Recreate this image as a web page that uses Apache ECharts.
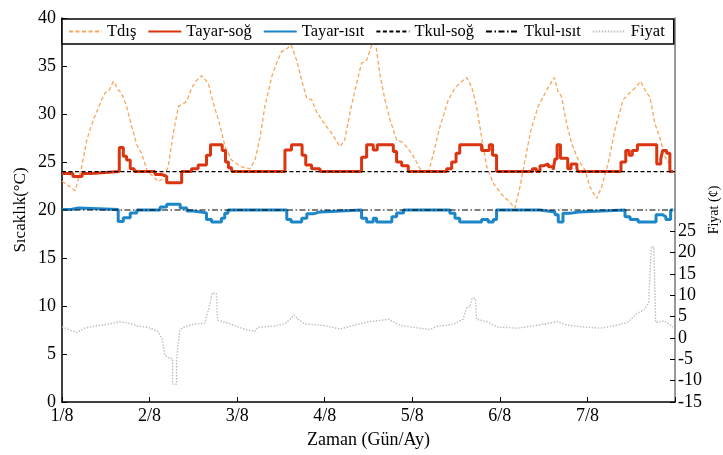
<!DOCTYPE html>
<html>
<head>
<meta charset="utf-8">
<script src="https://cdn.jsdelivr.net/npm/echarts@6/dist/echarts.min.js"></script>
<style>html,body{margin:0;padding:0;background:#fff;}#c{width:723px;height:455px;}</style>
</head>
<body>
<div id="c"></div>
<script>
// ---- data (hours from 1/8 00:00) ----
const dayLabels = ['1/8','2/8','3/8','4/8','5/8','6/8','7/8'];
const tempTicks = [0,5,10,15,20,25,30,35,40];
const priceTicks = [-15,-10,-5,0,5,10,15,20,25];

const tdisH = [0,1.5,3.6,5.4,6.8,8.6,10.9,11.8,12.8,14.1,15.4,16.3,17.7,19.1,20.5,21.8,23.4,25.0,26.4,27.8,29.1,30.5,31.9,34.2,35.5,36.9,38.3,40.1,41.5,43.3,44.7,46.5,47.6,49.2,51.5,52.9,54.3,55.6,57.5,58.8,60.2,61.6,62.8,64.3,65.7,67.1,68.4,69.8,72.1,73.9,76.2,77.5,78.9,80.3,82.1,83.5,84.9,85.8,87.1,88.5,89.9,91.7,93.1,94.4,96.3,98.1,100.4,101.8,103.6,105.9,107.7,109.0,110.9,112.3,113.6,115.0,116.4,118.2,120.5,122.3,124.1,125.5,126.9,128.5,130.5,131.9,133.3,134.9,136.0,136.9,138.3,139.7,141.5,143.3,144.7,146.5,147.9,149.7,151.5,153.8,155.6,157.0,158.6,160.2,161.1,162.5,163.8,165.2,167.0];
const tdisV = [23.0,22.6,22.0,24.5,27.3,29.4,31.5,32.2,32.4,33.4,32.5,32.2,30.8,28.7,26.8,25.9,24.0,23.5,22.95,23.3,24.5,28.0,30.8,31.3,32.7,33.5,34.0,33.2,31.1,28.8,26.6,25.2,24.9,24.5,24.3,25.2,27.6,30.8,33.9,35.3,36.5,36.8,37.2,35.6,33.5,31.6,31.5,30.2,28.9,28.0,26.6,27.3,30.1,32.5,35.3,35.6,37.2,37.8,34.2,31.5,29.4,27.3,27.1,26.6,25.6,24.3,23.8,25.9,28.7,31.5,32.7,33.2,33.8,32.8,30.8,27.6,24.5,22.8,21.6,21.0,20.2,22.4,25.2,28.3,30.8,31.8,32.8,33.8,32.3,31.8,29.0,26.9,25.2,24.2,22.4,21.2,22.4,24.9,28.3,31.5,32.2,32.7,33.4,32.2,31.8,29.0,27.6,25.6,24.5];

const sogH = [0,3,5.5,8,15.7,16.8,17.7,18.7,19.8,25.5,27.3,28.7,32.8,35.5,37.3,39.6,40.7,43.9,44.8,45.6,46.5,61.1,62.9,65.8,66.8,68.4,70.7,82.1,83.5,85.3,86.4,90.8,91.7,93.1,94.9,105.4,106.8,108.0,109.0,115.0,117.1,118.0,119.1,128.9,130.0,131.0,131.9,133.3,134.6,135.1,135.7,136.6,138.6,139.5,141.1,141.5,153.2,154.5,155.4,156.3,157.7,163.0,164.1,164.6,165.7,166.6,167.5];
const sogV = [23.8,23.5,23.8,24.0,26.5,25.6,25.2,24.3,24.0,23.7,23.5,22.85,24.0,24.3,24.7,25.7,26.8,26.2,25.0,24.4,24.0,26.25,26.8,25.7,24.7,24.3,24.0,25.5,26.8,26.25,26.8,26.1,25.0,24.6,24.0,24.3,25.0,25.9,26.8,26.2,26.8,25.7,24.0,24.3,24.0,24.6,24.8,24.5,24.2,25.3,26.8,25.4,24.3,24.8,24.3,24.0,25.0,26.2,25.7,26.2,26.8,24.8,25.3,26.2,25.9,24.0,24.0];

const isitH = [0,2.5,4.5,15.4,16.8,18.7,20.5,26.9,28.7,32.4,34.2,36.0,39.6,41.0,43.7,44.6,45.5,61.6,62.8,65.7,67.1,68.9,70.7,82.1,83.5,85.3,86.2,90.4,91.7,93.6,106.3,107.7,109.0,115.0,116.8,118.2,119.1,131.0,135.1,136.0,137.3,139.2,141.5,154.3,155.7,157.9,162.8,164.6,165.5,166.8,167.5];
const isitV = [20.05,20.2,20.05,18.8,19.2,19.7,20.0,20.3,20.6,20.2,19.9,19.7,19.0,18.75,19.15,19.65,20.0,19.0,18.75,19.15,19.6,19.8,20.0,19.15,18.75,19.15,18.75,19.3,19.7,20.0,19.65,19.15,18.75,19.0,18.75,19.0,20.0,19.8,19.5,18.75,19.65,19.8,20.0,19.3,19.0,18.75,19.5,19.3,19.0,20.0,20.0];

const tkulH = [0,168];
const tkulSogV = [24,24];
const tkulIsitV = [20,20];

const fiyatH = [0,4.0,6.2,9.0,12.6,15.8,18.1,20.8,23.6,26.3,27.4,28.2,29.5,30.3,30.3,31.4,31.4,32.3,33.6,36.4,39.1,40.5,41.1,42.3,42.6,45.5,49.2,52.8,53.7,58.3,61.0,62.8,63.6,64.7,66.5,72.0,76.1,79.3,83.8,87.1,89.4,92.6,96.2,100.8,102.6,107.2,109.9,111.0,111.8,112.4,113.3,113.6,116.6,119.3,124.8,130.3,135.8,138.5,144.0,147.6,152.2,154.9,157.7,159.5,160.8,161.5,162.2,162.7,165.0,166.8,167.5];
const fiyatV = [2.6,1.3,2.3,2.8,3.2,3.8,3.5,2.8,2.5,1.5,-0.1,-4.0,-4.8,-4.8,-10.8,-10.8,-4.8,1.9,2.6,3.3,3.5,7.7,10.5,10.5,4.2,3.5,2.3,1.5,2.5,2.8,3.3,4.6,5.4,4.4,3.3,2.9,2.1,2.8,3.8,4.1,4.4,3.0,2.5,2.0,2.7,3.2,4.4,7.3,7.3,9.3,9.3,4.4,3.8,2.6,2.3,3.0,3.8,3.0,2.5,2.3,3.0,3.6,5.8,6.6,8.3,21.4,21.4,3.6,4.0,3.0,2.5];

const seriesNames = ['Tdış','Tayar-soğ','Tayar-ısıt','Tkul-soğ','Tkul-ısıt','Fiyat'];

function pairs(h, v){ return h.map((x,i)=>[x, v[i]]); }

const FONT = 'Liberation Serif';
const chart = echarts.init(document.getElementById('c'), null, {renderer:'canvas'});
chart.setOption({
  animation:false,
  backgroundColor:'#fff',
  textStyle:{fontFamily:FONT, color:'#000'},
  grid:{left:62, right:48, top:18, bottom:53, containLabel:false, outerBoundsMode:'none'},
  legend:{
    data:seriesNames,
    left:62, top:19,
    padding:[4,9,4,6],
    itemGap:11, itemWidth:33, itemHeight:14,
    borderColor:'#000', borderWidth:1.5, borderRadius:0,
    backgroundColor:'#fff',
    itemStyle:{opacity:0},
    textStyle:{fontFamily:FONT, fontSize:16.5, color:'#000'},
    z:10
  },
  xAxis:{
    type:'value', min:0, max:168, interval:24,
    axisLine:{show:true, onZero:false, lineStyle:{color:'#000', width:1.5}},
    axisTick:{show:true, inside:true, length:5, lineStyle:{color:'#000'}},
    splitLine:{show:false},
    axisLabel:{fontFamily:FONT, fontSize:18, color:'#000', margin:5,
      formatter:function(v){ const i = Math.round(v/24); return i < dayLabels.length ? dayLabels[i] : ''; }},
    name:'Zaman (Gün/Ay)', nameLocation:'middle', nameGap:38, nameMoveOverlap:false,
    nameTextStyle:{fontFamily:FONT, fontSize:18, color:'#000', verticalAlign:'middle'}
  },
  yAxis:[{
    type:'value', min:0, max:40, interval:5, position:'left',
    axisLine:{show:true, lineStyle:{color:'#000', width:1.5}},
    axisTick:{show:true, inside:true, length:5, lineStyle:{color:'#000'}},
    splitLine:{show:false},
    axisLabel:{fontFamily:FONT, fontSize:18, color:'#000', margin:6,
      customValues:tempTicks},
    name:'Sıcaklık(°C)', nameLocation:'middle', nameGap:41, nameRotate:90, nameMoveOverlap:false,
    nameTextStyle:{fontFamily:FONT, fontSize:17, color:'#000', verticalAlign:'middle'}
  },{
    type:'value', min:-15, max:75, interval:5, position:'right',
    axisLine:{show:true, lineStyle:{color:'#777', width:1.5}},
    axisTick:{show:true, inside:true, length:5, lineStyle:{color:'#000'}, customValues:priceTicks},
    splitLine:{show:false},
    axisLabel:{fontFamily:FONT, fontSize:18, color:'#000', margin:3,
      customValues:priceTicks},
    name:'Fiyat (¢)', nameLocation:'middle', nameGap:39, nameRotate:90, nameMoveOverlap:false,
    nameTextStyle:{fontFamily:FONT, fontSize:14, color:'#000', verticalAlign:'middle'}
  }],
  series:[
    {name:seriesNames[0], type:'line', yAxisIndex:0, symbol:'none', data:pairs(tdisH, tdisV),
     lineStyle:{color:'#F8A65C', width:1.3, type:[4,2.5]}, itemStyle:{color:'#F8A65C'}, z:2},
    {name:seriesNames[1], type:'line', yAxisIndex:0, symbol:'none', step:'end', data:pairs(sogH, sogV),
     lineStyle:{color:'#DA3510', width:3}, itemStyle:{color:'#DA3510'}, z:3},
    {name:seriesNames[2], type:'line', yAxisIndex:0, symbol:'none', step:'end', data:pairs(isitH, isitV),
     lineStyle:{color:'#1C86C8', width:3}, itemStyle:{color:'#1C86C8'}, z:3},
    {name:seriesNames[3], type:'line', yAxisIndex:0, symbol:'none', data:pairs(tkulH, tkulSogV),
     lineStyle:{color:'#000', width:1.2, type:[4,2.5]}, itemStyle:{color:'#000'}, z:4},
    {name:seriesNames[4], type:'line', yAxisIndex:0, symbol:'none', data:pairs(tkulH, tkulIsitV),
     lineStyle:{color:'#000', width:1.2, type:[6,2.5,1.5,2.5]}, itemStyle:{color:'#000'}, z:4},
    {name:seriesNames[5], type:'line', yAxisIndex:1, symbol:'none', data:pairs(fiyatH, fiyatV),
     lineStyle:{color:'#BBBBBB', width:1.4, type:[1.4,1.6]}, itemStyle:{color:'#BBBBBB'}, z:2}
  ]
});
</script>
</body>
</html>
